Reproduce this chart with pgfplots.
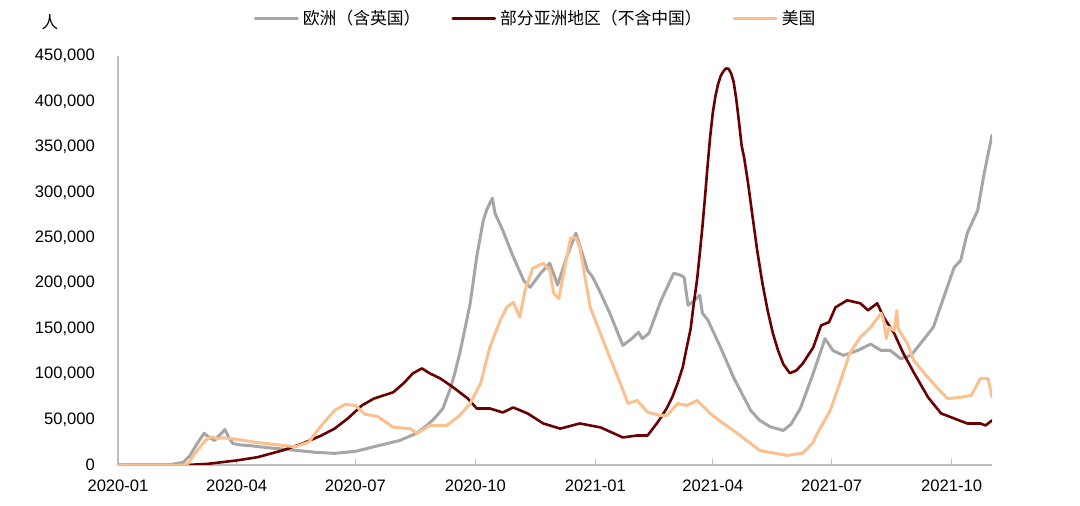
\documentclass[border=0pt]{standalone}
\usepackage{fontspec}
\setmainfont{Liberation Sans}
\newfontfamily\cjk{Noto Sans CJK SC}
\usepackage{pgfplots}
\pgfplotsset{compat=1.18}
\definecolor{eugray}{RGB}{166,166,166}
\definecolor{asred}{RGB}{106,0,0}
\definecolor{usor}{RGB}{250,192,143}
\definecolor{axgray}{RGB}{190,190,190}
\begin{document}
\begin{tikzpicture}
\begin{axis}[
  name=ax, at={(0,0)}, anchor=south west,
  scale only axis, width=437pt, height=204.5pt,
  xmin=0, xmax=670, ymin=0, ymax=450000,
  axis lines*=left,
  axis line style={draw=axgray, line width=0.7pt},
  xtick={0,91,182,274,366,456,547,639},
  xticklabels={2020-01,2020-04,2020-07,2020-10,2021-01,2021-04,2021-07,2021-10},
  xtick style={draw=axgray, line width=0.6pt},
  major tick length=3pt, tick align=inside,
  ytick={0,50000,100000,150000,200000,250000,300000,350000,400000,450000},
  ytick style={draw=none},
  scaled y ticks=false,
  /pgf/number format/assume math mode=true,
  /pgf/number format/fixed,
  /pgf/number format/1000 sep={,},
  tick label style={font=\fontsize{8.3}{10}\selectfont, text=black},
  yticklabel style={xshift=-8pt},
  xticklabel style={yshift=-3.8pt},
  legend style={at={(0.479,1.0917)}, anchor=center, draw=none, fill=none,
    font=\cjk\fontsize{8.4}{10}\selectfont, legend columns=3,
    /tikz/every even column/.append style={column sep=13.5pt}},
  legend image code/.code={\draw[#1] (0pt,0pt) -- (21pt,0pt);},
  every axis plot/.append style={line join=round, line cap=round},
]
\addplot[eugray, line width=1.5pt] coordinates {
(0,0)(36,0)(40,300)(50,3000)(55,10000)(60,22000)(66,35000)(70,30000)(74,27000)(78,33000)(82,39000)(85,30000)(88,23700)(94,22000)(100,21500)(115,19000)(130,17000)(151,14000)(166,12800)(182,15000)(196,20000)(216,27000)(229,35000)(238,45000)(243,52000)(249,62000)(255,85000)(258,100000)(262,123000)(266,150000)(270,178000)(275,229000)(280,269000)(283,282000)(287,293500)(289,277000)(295,258000)(303,229000)(311,203000)(316,195500)(324,211000)(331,222000)(337,198000)(344,229000)(351,255000)(360,214000)(364,206500)(370,189000)(377,167000)(387,131600)(393,138000)(399,146000)(402,139000)(407,145000)(416,180000)(426,211000)(431,209000)(434,206500)(437,175700)(441,180000)(446,186700)(448,167000)(452,160000)(462,129000)(472,96000)(485,60000)(492,49000)(500,42000)(510,38000)(516,45000)(523,62000)(533,101000)(542,139000)(548,126000)(556,120600)(567,126000)(577,133000)(585,126000)(592,126000)(600,117000)(608,120600)(617,137000)(625,151500)(633,184500)(641,217500)(646,225000)(651,255000)(659,280000)(664,321000)(670,363000)
};
\addlegendentry{欧洲（含英国）}
\addplot[asred, line width=1.3pt] coordinates {
(0,0)(53,0)(69,1300)(91,5000)(107,8600)(126,16000)(141,23300)(156,32500)(166,40000)(176,51000)(187,65500)(196,73000)(211,80000)(219,90000)(226,100800)(233,106300)(239,100800)(247,95300)(257,85400)(268,73300)(275,62200)(285,62200)(295,57800)(303,63300)(314,56700)(326,45700)(339,40000)(354,45700)(370,41300)(387,30300)(398,32500)(406,32500)(413,45700)(417,54000)(421,63300)(425,75000)(429,90000)(433,108000)(436,129500)(439,150000)(441,173500)(444,205000)(446,233000)(448,262000)(450,295000)(452,330000)(454,362000)(456,388000)(458,406000)(460,419000)(462,428000)(464,433000)(466,436300)(468,436000)(470,431000)(472,421000)(474,402000)(476,378000)(478,352000)(480,338000)(483,310000)(486,278000)(490,236000)(494,200000)(498,170000)(502,145000)(506,126000)(510,111000)(515,101000)(520,104000)(525,111800)(533,129500)(539,153700)(545,157000)(550,173500)(559,181200)(569,177900)(575,170200)(582,177900)(587,162500)(595,144900)(602,122900)(610,101900)(621,74400)(631,56700)(641,51200)(651,45700)(661,45700)(665,43500)(670,49000)
};
\addlegendentry{部分亚洲地区（不含中国）}
\addplot[usor, line width=1.5pt] coordinates {
(0,0)(50,0)(54,2000)(59,12700)(63,20000)(67,27000)(71,31000)(76,29000)(80,30000)(92,28000)(105,25000)(120,22600)(136,20000)(146,25000)(156,43500)(166,60000)(174,66600)(182,65500)(189,56000)(199,53400)(211,41600)(224,40000)(229,34700)(239,43500)(252,43500)(262,54500)(270,67700)(278,90000)(285,129500)(293,159000)(298,173500)(303,179000)(308,162500)(312,192000)(318,216500)(326,222000)(331,214000)(334,189000)(338,183000)(341,206500)(347,250000)(351,250000)(354,239500)(362,173500)(376,122000)(385,90000)(391,67700)(398,71000)(406,58000)(416,54500)(421,54500)(429,67700)(436,65500)(444,71000)(454,56700)(464,45700)(475,34700)(492,16000)(513,10500)(525,13000)(533,24800)(536,34700)(546,60000)(554,93000)(561,123000)(569,140500)(577,151500)(585,167000)(587,159000)(589,139000)(591,151500)(595,148000)(597,170000)(598,150000)(605,134000)(610,115000)(621,96000)(628,85000)(636,73000)(646,74500)(654,76500)(661,95000)(667,95000)(670,74500)
};
\addlegendentry{美国}
\end{axis}
\node[font=\cjk\fontsize{8.3}{10}\selectfont] at (-34pt,221.5pt) {人};
\pgfresetboundingbox
\path (-59pt,-20.5pt) rectangle (481pt,232.5pt);
\end{tikzpicture}
\end{document}
